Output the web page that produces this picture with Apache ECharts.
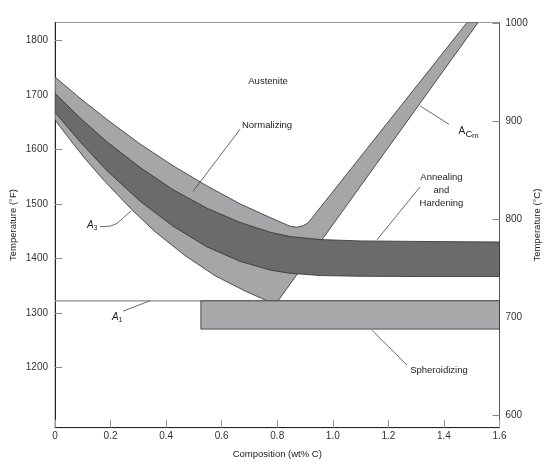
<!DOCTYPE html>
<html><head><meta charset="utf-8">
<script src="https://cdn.jsdelivr.net/npm/echarts@6/dist/echarts.min.js"></script>
<style>html,body{margin:0;padding:0;background:#fff}#c{width:544px;height:463px}</style>
</head><body><div id="c"></div>
<script>
// ---- axis ticks ----
const xTicks = [0, 0.2, 0.4, 0.6, 0.8, 1.0, 1.2, 1.4, 1.6];
const xTickLabels = ['0', '0.2', '0.4', '0.6', '0.8', '1.0', '1.2', '1.4', '1.6'];
const fahrenheitTicks = [1200, 1300, 1400, 1500, 1600, 1700, 1800];
const celsiusTicks = [600, 700, 800, 900, 1000];
const fRange = [1089, 1833];

// ---- boundaries [wt% C, °F] ----
const normalizingUpper = [[0,1733],[0.09,1694],[0.187,1655],[0.306,1610],[0.425,1570],[0.547,1533],[0.666,1500],[0.774,1475],[0.846,1459],[0.871,1457],[0.893,1460],[0.911,1465],[1.483,1833]];
const acmRightEdge = [[1.523,1833],[0.803,1322]];
const a3Curve = [[0,1654],[0.054,1618],[0.108,1583],[0.18,1541],[0.277,1489],[0.36,1449],[0.468,1405],[0.576,1368],[0.684,1340],[0.763,1322]];
const annealTop = [[0,1703],[0.09,1658],[0.187,1614],[0.306,1567],[0.425,1526],[0.547,1492],[0.666,1466],[0.774,1448],[0.846,1440],[0.954,1434.5],[1.098,1432],[1.314,1431],[1.6,1430]];
const annealBottom = [[0,1668],[0.09,1614],[0.187,1561],[0.306,1505],[0.425,1459],[0.547,1421],[0.666,1394.5],[0.774,1378.5],[0.846,1372.5],[0.954,1368.4],[1.098,1367],[1.314,1366.6],[1.6,1366.6]];
const a1Temp = 1322;
const spheroidWt = [0.525, 1.6];
const spheroidTemp = [1322, 1270];

// ---- annotations [wt% C, °F] ----
const labelTexts = ['Austenite', 'Normalizing', 'Annealing\nand\nHardening', 'Spheroidizing'];
const labelPos = [[0.767,1724],[0.673,1645],[1.391,1525],[1.382,1195]];
const labelAlign = ['center', 'left', 'center', 'center'];
const leaders = [
  [[0.666,1637],[0.497,1523]],
  [[1.314,1531],[1.159,1434]],
  [[1.141,1268],[1.267,1204]],
  [[1.314,1680],[1.418,1646]],
  [[0.162,1458],[0.198,1459],[0.223,1464],[0.274,1487]],
  [[0.245,1303],[0.342,1322]]
];
const a3LabelPos = [0.133, 1461];
const a1LabelPos = [0.223, 1292];
const acmLabelPos = [1.452, 1633];

const FONT = "'Liberation Sans', Arial, sans-serif";
const TXT = '#222';

function polygon(points, fill, z) {
  return {
    type: 'custom', z, silent: true, clip: true, data: [[0, a1Temp]],
    renderItem: (p, api) => ({
      type: 'polygon',
      shape: { points: points.map(pt => api.coord(pt)) },
      style: { fill, stroke: '#2e2e2e', lineWidth: 0.8 }
    })
  };
}

const lightShape = normalizingUpper.concat(acmRightEdge, a3Curve.slice().reverse());
const darkBand = annealTop.concat(annealBottom.slice().reverse());
const spheroidRect = [[spheroidWt[0],spheroidTemp[0]],[spheroidWt[1],spheroidTemp[0]],[spheroidWt[1],spheroidTemp[1]],[spheroidWt[0],spheroidTemp[1]]];

function sym(api, pos, parts) {
  const c = api.coord(pos);
  return {
    type: 'group', x: c[0], y: c[1],
    children: parts.map(pt => ({
      type: 'text', x: pt.dx, y: pt.dy,
      style: { text: pt.t, fontSize: pt.fs, fontStyle: pt.it ? 'italic' : 'normal', fontFamily: FONT, fill: TXT, align: 'left', verticalAlign: 'middle' }
    }))
  };
}

const chart = echarts.init(document.getElementById('c'));
chart.setOption({
  animation: false,
  backgroundColor: '#fff',
  grid: { left: 55, right: 44.5, top: 22.5, bottom: 35.3, containLabel: false, outerBoundsMode: 'none', show: true, borderColor: '#999', borderWidth: 1 },
  xAxis: {
    type: 'value', min: 0, max: 1.6, interval: 0.2,
    name: 'Composition (wt% C)', nameLocation: 'middle', nameGap: 22, nameMoveOverlap: false,
    nameTextStyle: { fontFamily: FONT, fontSize: 9.5, color: TXT },
    axisLine: { lineStyle: { color: '#222', width: 1 } },
    axisTick: { inside: true, length: 8, lineStyle: { color: '#999' } },
    axisLabel: { fontFamily: FONT, fontSize: 10, color: '#333', margin: 4, formatter: v => xTickLabels[Math.round(v * 5)] },
    splitLine: { show: false }
  },
  yAxis: [{
    type: 'value', min: fRange[0], max: fRange[1], position: 'left',
    name: 'Temperature (°F)', nameLocation: 'middle', nameGap: 37, nameRotate: 90, nameMoveOverlap: false,
    nameTextStyle: { fontFamily: FONT, fontSize: 9.5, color: TXT },
    axisLine: { show: true, lineStyle: { color: '#222', width: 1 } },
    axisTick: { show: true, inside: true, length: 7, customValues: fahrenheitTicks, lineStyle: { color: '#888' } },
    axisLabel: { customValues: fahrenheitTicks, formatter: v => String(v), fontFamily: FONT, fontSize: 10, color: '#333', margin: 7 },
    splitLine: { show: false }
  }, {
    type: 'value', min: (fRange[0] - 32) / 1.8, max: (fRange[1] - 32) / 1.8, position: 'right',
    name: 'Temperature (°C)', nameLocation: 'middle', nameGap: 33, nameRotate: 90, nameMoveOverlap: false,
    nameTextStyle: { fontFamily: FONT, fontSize: 9.5, color: TXT },
    axisLine: { show: true, lineStyle: { color: '#555', width: 1 } },
    axisTick: { show: true, inside: true, length: 7, customValues: celsiusTicks, lineStyle: { color: '#888' } },
    axisLabel: { customValues: celsiusTicks, formatter: v => String(v), fontFamily: FONT, fontSize: 10, color: '#333', margin: 6 },
    splitLine: { show: false }
  }],
  series: [
    polygon(lightShape, '#a6a6a8', 2),
    polygon(darkBand, '#6b6b6d', 3),
    {
      type: 'line', z: 4, silent: true, symbol: 'none',
      data: [[0, a1Temp], [1.6, a1Temp]],
      lineStyle: { color: '#8c8c8c', width: 1.2 }
    },
    polygon(spheroidRect, '#a9a9ab', 5),
    {
      type: 'custom', z: 6, silent: true, clip: false, data: [[0, a1Temp]],
      renderItem: (p, api) => {
        const children = [];
        leaders.forEach(l => children.push({
          type: 'polyline', shape: { points: l.map(pt => api.coord(pt)) },
          style: { stroke: '#444', lineWidth: 0.8, fill: null }
        }));
        labelTexts.forEach((t, i) => {
          const c = api.coord(labelPos[i]);
          children.push({ type: 'text', x: c[0], y: c[1], style: { text: t, fontFamily: FONT, fontSize: 9.5, fill: TXT, align: labelAlign[i], verticalAlign: 'middle', lineHeight: 13 } });
        });
        children.push(sym(api, a3LabelPos, [{ t: 'A', dx: -5, dy: 0, fs: 10, it: true }, { t: '3', dx: 1.5, dy: 3, fs: 7 }]));
        children.push(sym(api, a1LabelPos, [{ t: 'A', dx: -5, dy: 0, fs: 10, it: true }, { t: '1', dx: 1.5, dy: 3, fs: 7 }]));
        children.push(sym(api, acmLabelPos, [{ t: 'A', dx: 0, dy: 0, fs: 10 }, { t: 'C', dx: 7, dy: 3, fs: 9.5 }, { t: 'm', dx: 13.5, dy: 4, fs: 8 }]));
        return { type: 'group', children };
      }
    }
  ]
});
</script></body></html>
